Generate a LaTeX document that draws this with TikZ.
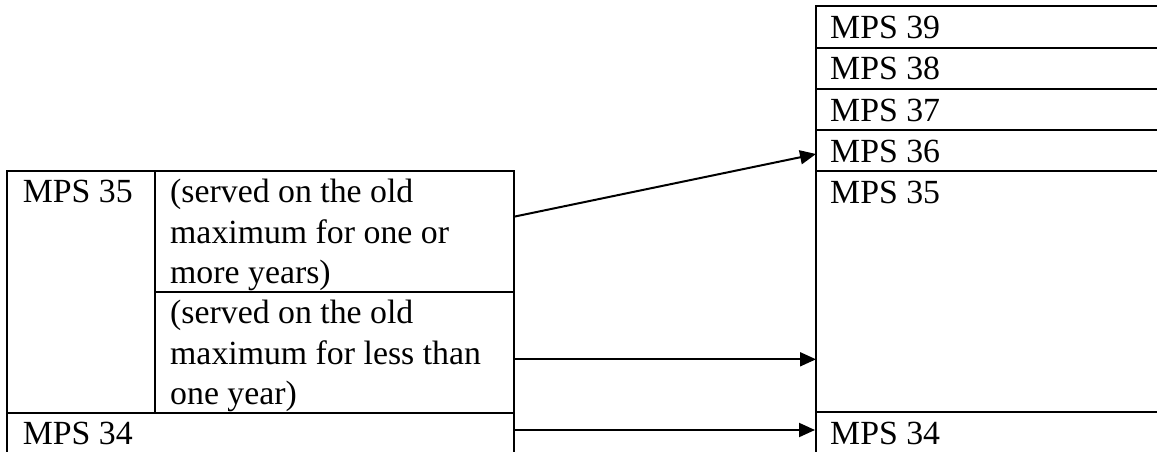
\documentclass[tikz,border=0pt]{standalone}
\usepackage{fontspec}
\setmainfont{Liberation Serif}
\usetikzlibrary{arrows.meta}
\begin{document}
\begin{tikzpicture}[x=1pt,y=1pt,
  grid/.style={line width=1.9pt, line cap=rect},
  cell/.style={anchor=base west, inner sep=0pt, font=\fontsize{33.8}{40.3}\selectfont},
  conn/.style={line width=2pt, -{Triangle[length=16pt,width=14pt]}}]
\useasboundingbox (0,0) rectangle (1157,-452);
% left table lines
\draw[grid] (7,-170.7) -- (514,-170.7);
\draw[grid] (7,-170.7) -- (7,-452);
\draw[grid] (155,-170.7) -- (155,-412.7);
\draw[grid] (514,-170.7) -- (514,-452);
\draw[grid] (155,-291.7) -- (514,-291.7);
\draw[grid] (7,-412.7) -- (514,-412.7);
% right table lines
\draw[grid] (816,-6) -- (1160,-6);
\foreach \y in {47.7,89.3,130,171,412.3} \draw[grid] (816,-\y) -- (1160,-\y);
\draw[grid] (816,-6) -- (816,-452);
% left texts
\node[cell] (l35) at (22.7,-202.7) {MPS 35};
\node[cell] (lmore) at (170,-202.7) {\begin{tabular}[t]{@{}l@{}}(served on the old\\maximum for one or\\more years)\end{tabular}};
\node[cell] (lless) at (170,-323.7) {\begin{tabular}[t]{@{}l@{}}(served on the old\\maximum for less than\\one year)\end{tabular}};
\node[cell] (l34) at (22.7,-444) {MPS 34};
% right texts
\node[cell] (r39) at (830,-38.3) {MPS 39};
\node[cell] (r38) at (830,-79.7) {MPS 38};
\node[cell] (r37) at (830,-121.3) {MPS 37};
\node[cell] (r36) at (830,-162) {MPS 36};
\node[cell] (r35) at (830,-203) {MPS 35};
\node[cell] (r34) at (830,-444.3) {MPS 34};
% connector ends
\coordinate (a1s) at (514,-216.7);
\coordinate (a1e) at (816,-154);
\coordinate (a2s) at (514,-359.3);
\coordinate (a2e) at (816,-359.3);
\coordinate (a3s) at (514,-430);
\coordinate (a3e) at (815,-430);
\draw[conn] (a1s) -- (a1e);
\draw[conn] (a2s) -- (a2e);
\draw[conn] (a3s) -- (a3e);
\end{tikzpicture}
\end{document}
